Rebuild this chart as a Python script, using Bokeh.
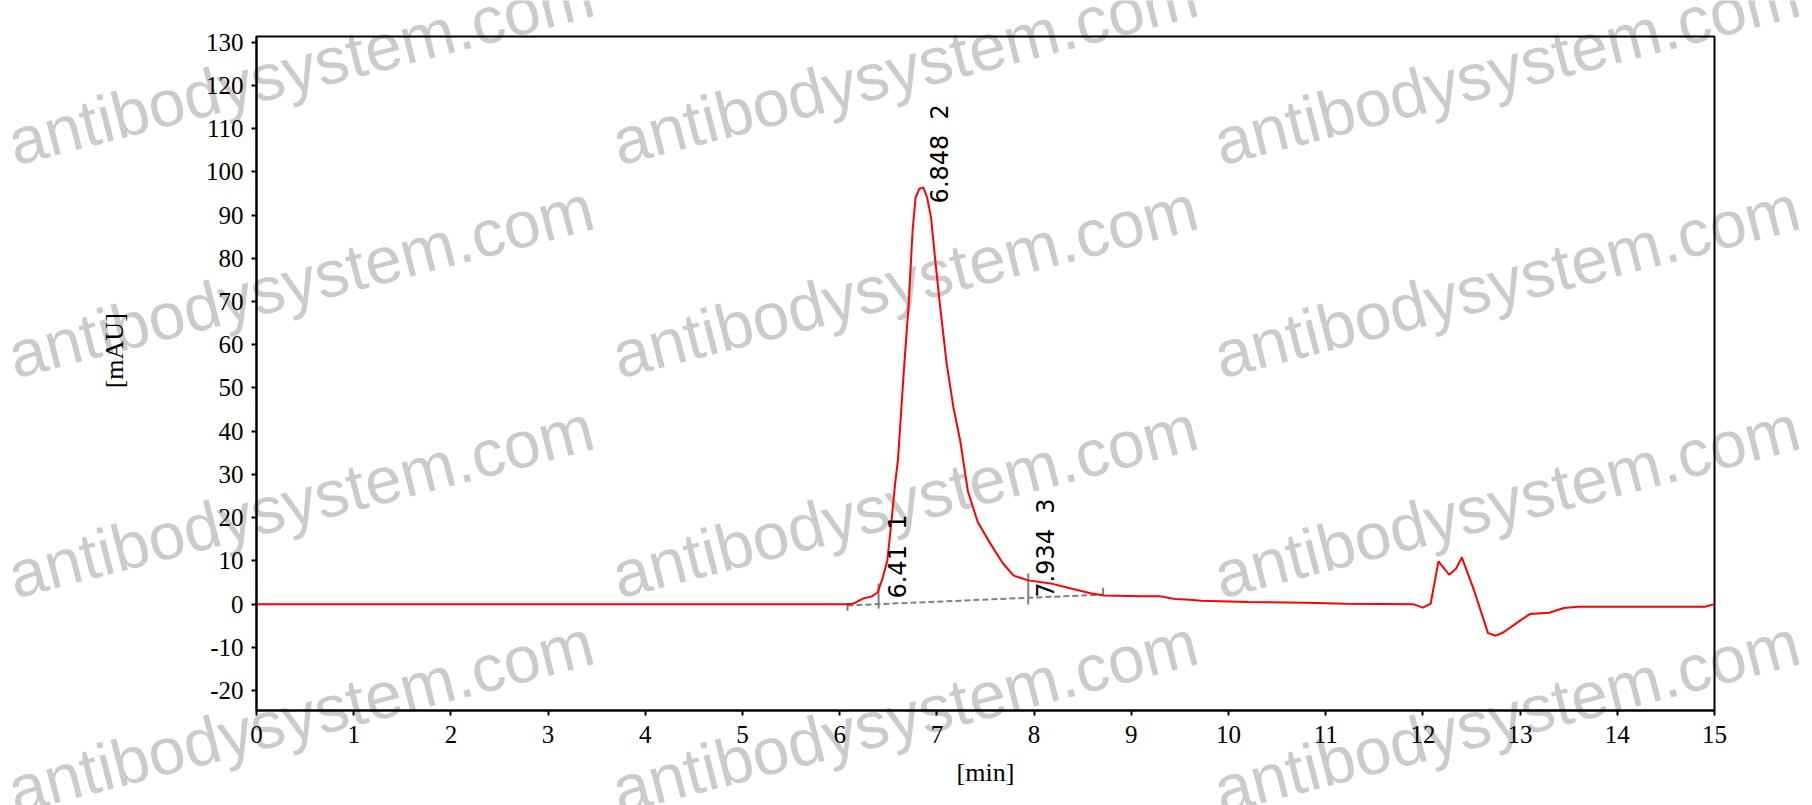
import math

from bokeh.plotting import figure
from bokeh.layouts import column
from bokeh.models import Range1d, FixedTicker
from bokeh.core.properties import value
from bokeh.embed import file_html
from bokeh.resources import INLINE

# chromatogram trace, values
time_min = [0, 6.0, 6.08, 6.14, 6.24, 6.33, 6.39, 6.44, 6.49, 6.53, 6.57, 6.60,
            6.66, 6.71, 6.75, 6.78, 6.82, 6.86, 6.90, 6.94, 6.98, 7.03, 7.10,
            7.17, 7.24, 7.32, 7.42, 7.55, 7.68, 7.79, 7.94, 8.17, 8.38, 8.58,
            8.72, 9.1, 9.3, 9.45, 9.6, 9.72, 10.2, 10.8, 11.2, 11.9, 12.0,
            12.08, 12.16, 12.27, 12.34, 12.40, 12.52, 12.67, 12.75, 12.83,
            13.0, 13.1, 13.3, 13.45, 13.6, 14.9, 15.0]
signal_mau = [0, 0, 0, 0.1, 1.3, 1.8, 2.7, 5.9, 10.1, 18.6, 27.8, 33.5,
              54.0, 69.5, 86.4, 94.0, 96.1, 96.4, 94.0, 89.4, 80.2, 69.5, 55.7,
              45.5, 37.8, 26.0, 19.0, 14.0, 9.4, 6.6, 5.5, 4.8, 3.6, 2.5,
              2.0, 1.8, 1.8, 1.2, 1.0, 0.8, 0.5, 0.3, 0.1, 0.0, -0.8,
              0.1, 9.9, 6.8, 8.2, 10.8, 3.6, -6.7, -7.3, -6.5,
              -3.8, -2.3, -2.0, -0.9, -0.6, -0.6, 0]

# integrated peaks
peak_rt = [6.41, 6.848, 7.934]
peak_no = ["1", "2", "3"]
peak_label_y = [1.3, 92.7, 1.5]

# integration baseline and peak boundary marks
base_x = [6.08, 8.71]
base_y = [-0.3, 2.2]
mark_x = [6.08, 6.40, 7.94, 8.71]
mark_lo = [-1.5, -1.0, -0.1, 2.0]
mark_hi = [0.2, 4.8, 7.1, 3.8]

x_ticks = list(range(0, 16))
y_ticks = list(range(-20, 131, 10))

W, H = 1812, 805
serif = "Liberation Serif"

# --- watermark layer: a bare figure whose frame is the whole page ---
wm = figure(width=W, height=H, x_range=Range1d(0, W), y_range=Range1d(0, H),
            output_backend="svg", toolbar_location=None, min_border=0,
            frame_align=False)
wm.axis.visible = False
wm.grid.visible = False
wm.outline_line_color = None
wm_x, wm_y = [], []
for px in (9, 613, 1215):
    for py in (143, 356, 576, 791):
        wm_x.append(px)
        wm_y.append(H - py)
wm.text(x=wm_x, y=wm_y, text=["antibodysystem.com"] * len(wm_x), angle=0.253,
        text_align="left", text_baseline="alphabetic",
        text_font=value("Liberation Sans"), text_font_size="66px", text_color="#cbcbcb")

# --- chart, transparent, laid over the watermark ---
p = figure(width=W, height=H,
           x_range=Range1d(0, 15), y_range=Range1d(-24.6, 131.3),
           output_backend="svg", toolbar_location=None,
           min_border_left=256, min_border_right=98,
           min_border_top=36, min_border_bottom=95,
           margin=(-H, 0, 0, 0), frame_align=False)
p.background_fill_color = None
p.border_fill_color = None
p.xgrid.visible = False
p.ygrid.visible = False
p.outline_line_color = "black"
p.outline_line_width = 2

p.line(base_x, base_y, line_color="#808080", line_width=2, line_dash="6 3")
p.segment(mark_x, mark_lo, mark_x, mark_hi, line_color="#808080", line_width=2)
p.line(time_min, signal_mau, line_color="red", line_width=2)

labels = [f"{rt}\u00a0\u00a0{n}" for rt, n in zip(peak_rt, peak_no)]
p.text(x=peak_rt, y=peak_label_y, text=labels, angle=math.pi / 2, x_offset=18,
       text_align="left", text_baseline="middle",
       text_font=value("DejaVu Sans"), text_font_size="24px", text_color="black")

for ax in (p.xaxis[0], p.yaxis[0]):
    ax.axis_line_width = 2
    ax.axis_line_color = "black"
    ax.major_tick_line_width = 2
    ax.major_tick_line_color = "black"
    ax.major_tick_in = 0
    ax.major_tick_out = 5
    ax.minor_tick_line_color = None
    ax.major_label_text_font = serif
    ax.major_label_text_font_size = "25px"
    ax.major_label_text_color = "black"
    ax.axis_label_text_font = serif
    ax.axis_label_text_font_size = "26px"
    ax.axis_label_text_font_style = "normal"
    ax.axis_label_text_color = "black"

p.xaxis.ticker = FixedTicker(ticks=x_ticks)
p.yaxis.ticker = FixedTicker(ticks=y_ticks)
p.xaxis.major_label_overrides = {t: str(t) for t in x_ticks}
p.yaxis.major_label_overrides = {t: str(t) for t in y_ticks}
p.xaxis.axis_label = "[min]"
# leading no-break spaces lift the label a little above the frame centre
p.yaxis.axis_label = "\u00a0" * 7 + "[mAU]"
p.xaxis.major_label_standoff = 10
p.yaxis.major_label_standoff = 8
p.xaxis.axis_label_standoff = 12
p.yaxis.axis_label_standoff = 74

page = column(wm, p, spacing=0)
open("out.html", "w").write(file_html(page, INLINE))
